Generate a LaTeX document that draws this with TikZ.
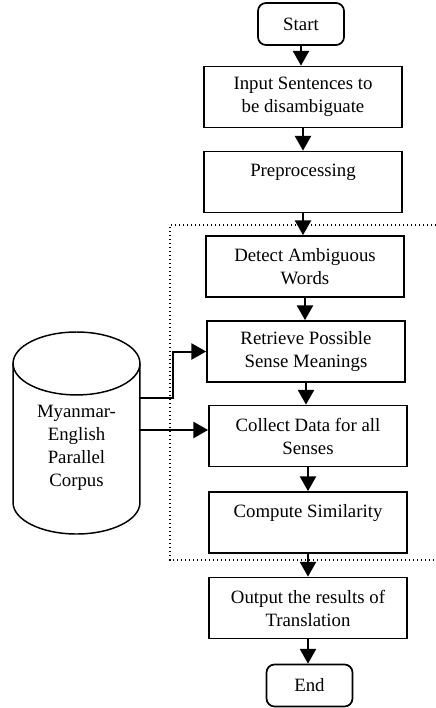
\documentclass[tikz,border=0pt]{standalone}
\usepackage{fontspec}
\setmainfont{Liberation Serif}
\usetikzlibrary{arrows.meta}
\tikzset{
	stepbox/.style={draw, line width=1.3pt, align=center, minimum width=148.5pt, minimum height=45.75pt, inner sep=0pt},
	termbox/.style={draw, line width=1.3pt, rounded corners=6pt, minimum width=64.5pt, minimum height=31.5pt, inner sep=0pt},
	flow/.style={line width=1.5pt, -{Triangle[length=11pt,width=12pt]}},
	drum/.style={line width=1.1pt},
}

\begin{document}
\begin{tikzpicture}[x=0.75pt, y=-0.75pt, font=\fontsize{14.1}{17.3}\selectfont]
		\useasboundingbox (0,0) rectangle (436,708);
		\node (start)[termbox] at (301,24) {Start};
		\node (input)[stepbox] at (303,97) {Input Sentences to\\be disambiguate};
		\node (prep)[stepbox] at (303,182) {Preprocessing\\~};
		%
		\node (detect)[stepbox] at (305,266.5) {Detect Ambiguous\\Words};
		\node (retrieve)[stepbox] at (306,351.5) {Retrieve Possible\\Sense Meanings};
		\node (collect)[stepbox] at (308,436) {Collect Data for all\\Senses};
		\node (compute)[stepbox] at (308,522.5) {Compute Similarity\\~};
		%
		\node (output)[stepbox] at (308,608) {Output the results of\\Translation};
		\node (end)[termbox] at (309.5,685.5) {End};
		%
		% corpus drum
		\node (corpus)[minimum width=95.25pt, inner sep=0pt, align=center] at (76.5,448) {Myanmar-\\English\\Parallel\\Corpus};
		\draw [drum]([yshift=63.4pt]corpus.center) ellipse [x radius=47.6pt, y radius=23.6pt];
		\draw [drum]([xshift=-47.6pt, yshift=63.4pt]corpus.center)--([xshift=-47.6pt, yshift=-40.9pt]corpus.center)
			arc [start angle=180, end angle=360, x radius=47.6pt, y radius=23.6pt]--([xshift=47.6pt, yshift=63.4pt]corpus.center);
		%
		\draw [line width=1pt, dotted] (436,225)--(170,225)--(170,560)--(436,560);
		%
		\draw [flow](start.south)--(start.south |- input.north);
		\draw [flow](input.south)--(input.south |- prep.north);
		\draw [flow](prep.south)--(prep.south |- detect.north);
		\draw [flow](detect.south)--(detect.south |- retrieve.north);
		\draw [flow](retrieve.south)--(retrieve.south |- collect.north);
		\draw [flow](collect.south)--(collect.south |- compute.north);
		\draw [flow](compute.south)--(compute.south |- output.north);
		\draw [flow](output.south)--(output.south |- end.north);
		\draw [flow]([yshift=37.5pt]corpus.east)--++(33,0)|-(retrieve.west);
		\draw [flow]([yshift=13.5pt]corpus.east)--([yshift=13.5pt]corpus.east -| collect.west);
	\end{tikzpicture}
\end{document}
